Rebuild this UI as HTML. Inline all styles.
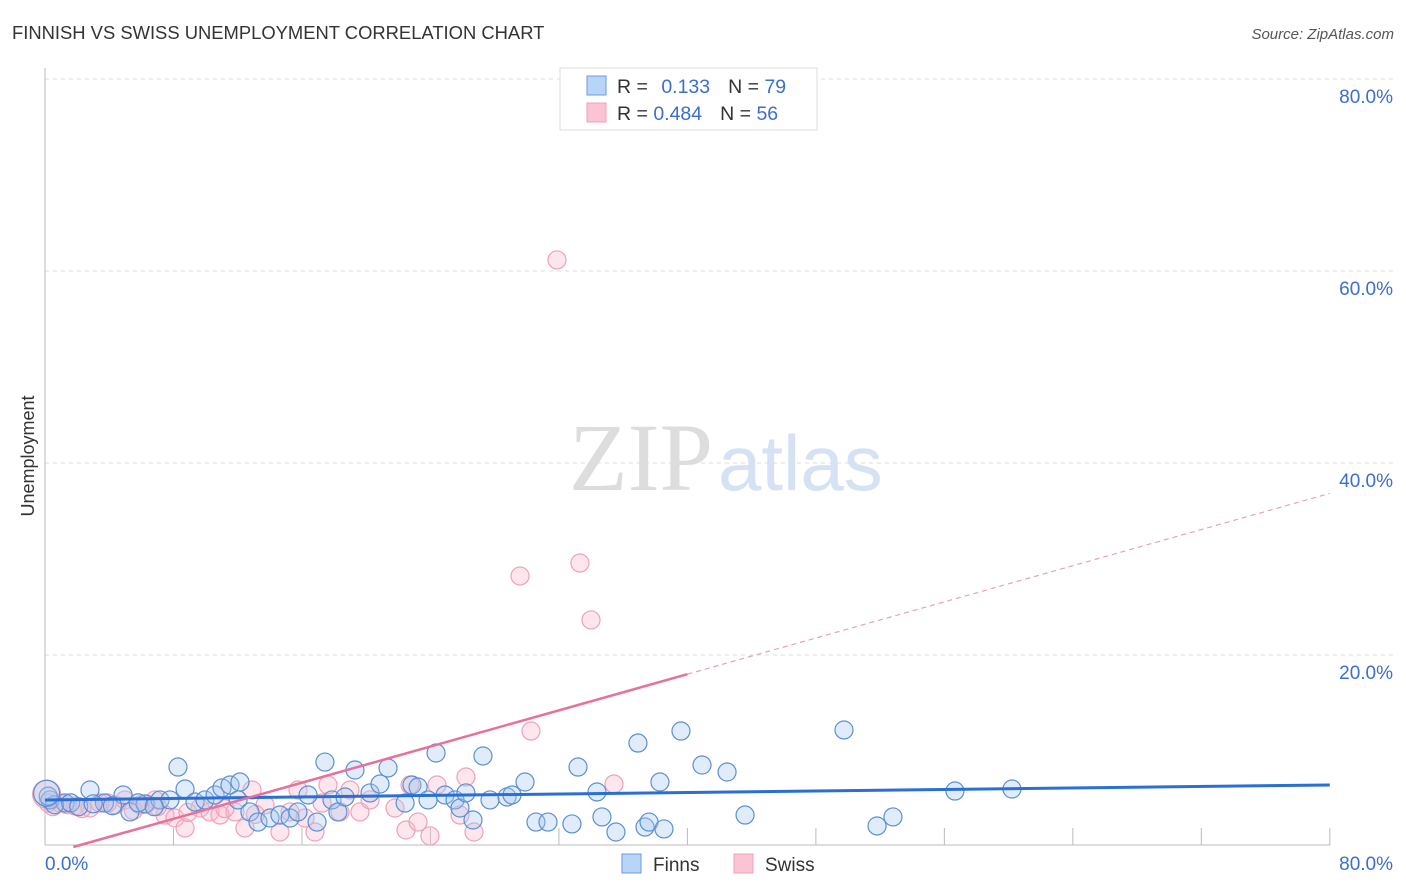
<!DOCTYPE html>
<html><head><meta charset="utf-8"><style>
body{margin:0;background:#fff;font-family:"Liberation Sans",sans-serif}
svg{display:block}
</style></head><body>
<svg id="chart" width="1406" height="892">
<text x="12" y="39" font-size="18.4" fill="#333">FINNISH VS SWISS UNEMPLOYMENT CORRELATION CHART</text>
<text x="1394" y="39" font-size="15" fill="#555" font-style="italic" text-anchor="end">Source: ZipAtlas.com</text>
<text x="713" y="490" font-size="96" fill="#ddd" text-anchor="end" font-family="Liberation Serif">ZIP</text>
<text x="718" y="490" font-size="78" fill="#d4e2f4">atlas</text>
<text transform="translate(34,456) rotate(-90)" font-size="18" fill="#333" text-anchor="middle">Unemployment</text>
<g id="grid"></g><g id="axes"></g><g id="pts"></g><g id="lines"></g>
<g>
<rect x="560" y="68" width="257" height="62" fill="#fff" stroke="#ddd"/>
<rect x="587" y="76" width="19" height="19" fill="#b8d4f6" stroke="#6a9be0"/>
<rect x="587" y="103" width="19" height="19" fill="#fac4d4" stroke="#f0a0b8"/>
<text x="617" y="93" font-size="19.5" fill="#333">R = <tspan fill="#3a6fd0" dx="8">0.133</tspan><tspan dx="18" fill="#333">N = </tspan><tspan fill="#3a6fd0">79</tspan></text>
<text x="617" y="120" font-size="19.5" fill="#333">R = <tspan fill="#3a6fd0">0.484</tspan><tspan dx="18" fill="#333">N = </tspan><tspan fill="#3a6fd0">56</tspan></text>
</g>
<g>
<rect x="622" y="854" width="19" height="19" fill="#b8d4f6" stroke="#6a9be0"/>
<text x="653" y="871" font-size="19" fill="#333">Finns</text>
<rect x="734" y="854" width="19" height="19" fill="#fac4d4" stroke="#f0a0b8"/>
<text x="765" y="871" font-size="19" fill="#333">Swiss</text>
</g>
</svg>
<script>
const yTicks=[20,40,60,80];
const yTickLabels=["20.0%","40.0%","60.0%","80.0%"];
const xTicks=[0,8,16,24,32,40,48,56,64,72,80];
const finnsX=[0.31,1.25,2.8,3.7,4.86,5.29,6.23,7.16,7.78,8.28,8.72,9.34,9.96,10.59,11.02,11.52,12.14,12.02,12.76,13.26,14.01,14.63,15.26,15.75,16.38,16.94,17.43,17.87,18.24,18.68,19.3,20.24,20.86,21.36,22.42,22.85,23.23,23.85,24.35,24.91,25.53,25.84,26.21,26.65,27.27,27.71,28.77,29.08,29.89,30.57,31.32,32.81,33.19,34.37,34.68,35.55,37.36,37.61,38.29,38.54,36.92,39.6,40.91,42.47,43.59,49.75,51.81,52.8,56.66,60.21,0.6,1.6,2.1,3.0,4.2,5.8,6.8,0.2,0.1];
const finnsY=[4.9,4.58,5.94,4.58,5.42,3.65,4.48,4.9,4.9,8.33,6.04,4.69,4.9,5.42,6.15,6.46,6.77,4.9,3.65,2.6,3.02,3.33,3.02,3.65,5.42,2.6,8.85,4.9,3.65,5.21,8.02,5.63,6.56,8.23,4.58,6.46,6.25,4.9,9.79,5.42,4.9,4.06,5.63,2.81,9.48,4.9,5.21,5.42,6.77,2.6,2.6,2.4,8.33,5.73,3.13,1.56,2.08,2.6,6.77,1.88,10.83,12.08,8.54,7.81,3.33,12.19,2.19,3.13,5.83,6.04,4.4,4.6,4.2,4.5,4.3,4.6,4.2,5.3,5.6];
const swissX=[0.93,1.87,2.8,3.42,4.36,4.98,5.92,6.85,7.47,8.09,8.72,9.65,10.27,10.9,11.83,12.45,12.89,13.7,14.63,15.26,15.75,16.19,16.81,17.25,17.62,18.37,18.99,19.61,20.24,21.79,22.48,22.73,23.23,23.97,24.41,25.84,26.21,26.71,29.58,30.26,31.88,33.31,34.0,35.43,0.2,0.5,1.4,2.3,3.9,5.5,6.3,7.0,8.9,11.2,13.1,0.1];
const swissY=[4.58,4.27,4.06,4.58,4.38,4.9,4.38,4.9,3.33,3.02,1.98,4.06,3.65,3.33,3.65,1.98,5.94,4.38,1.56,3.65,5.94,3.02,1.56,4.58,6.46,3.65,5.94,3.65,4.9,4.06,1.77,6.46,2.6,1.15,6.46,3.33,7.29,1.56,28.23,12.08,61.15,29.58,23.65,6.56,4.6,4.2,4.4,4.0,4.6,3.8,4.5,4.2,3.6,4.0,3.4,5.5];
const finnsFit=[4.9,6.46];
const swissFit=[-0.83,0.4708];
const NS='http://www.w3.org/2000/svg';
const X=v=>45+v*16.06, Y=v=>847-v*9.6;
function mk(t,a,p){const e=document.createElementNS(NS,t);for(const k in a)e.setAttribute(k,a[k]);p.appendChild(e);return e;}
const grid=document.getElementById('grid'),axes=document.getElementById('axes'),pts=document.getElementById('pts'),lines=document.getElementById('lines');
yTicks.forEach((t,i)=>{
 const l=mk('line',{x1:45,x2:1395,y1:Y(t),y2:Y(t),stroke:'#ddd','stroke-dasharray':'4,4'},grid);
 
 
 const tx=mk('text',{x:1393,y:Y(t)+24,'font-size':19,fill:'#3a6fd0','text-anchor':'end'},grid);
 tx.textContent=yTickLabels[i];
 
 
});
const ax=mk('line',{x1:45,x2:45,y1:68,y2:845,stroke:'#bbb'},axes);


const bx=mk('line',{x1:45,x2:1330,y1:845,y2:845,stroke:'#bbb'},axes);


xTicks.forEach(t=>{const l=mk('line',{x1:X(t),x2:X(t),y1:828,y2:845,stroke:'#bbb'},axes);
 
 });
[['0.0%',45,'start'],['80.0%',1393,'end']].forEach(d=>{const t=mk('text',{x:d[1],y:870,'font-size':19,fill:'#3a6fd0','text-anchor':d[2]},axes);t.textContent=d[0];
 
 });
swissX.forEach((x,i)=>{const c=mk('circle',{cx:X(x),cy:Y(swissY[i]),r:i==swissX.length-1?14:9,fill:'rgba(248,180,200,0.32)',stroke:'#f0a0b8','stroke-width':1.2},pts);
 
 });
finnsX.forEach((x,i)=>{const c=mk('circle',{cx:X(x),cy:Y(finnsY[i]),r:i==finnsX.length-1?13:9,fill:'rgba(168,200,240,0.35)',stroke:'#5b8fd6','stroke-width':1.2},pts);
 
 });
const fl=mk('line',{x1:X(0),y1:Y(finnsFit[0]),x2:X(80),y2:Y(finnsFit[1]),stroke:'#2a6fd6','stroke-width':3},lines);


const s=x=>swissFit[0]+swissFit[1]*x;
const x0=-swissFit[0]/swissFit[1];
const sl=mk('line',{x1:X(x0),y1:Y(0),x2:X(40),y2:Y(s(40)),stroke:'#e8709a','stroke-width':2.5},lines);


const sd=mk('line',{x1:X(40),y1:Y(s(40)),x2:X(80),y2:Y(s(80)),stroke:'#e8a0b8','stroke-width':1.2,'stroke-dasharray':'5,4'},lines);


</script>
</body></html>
